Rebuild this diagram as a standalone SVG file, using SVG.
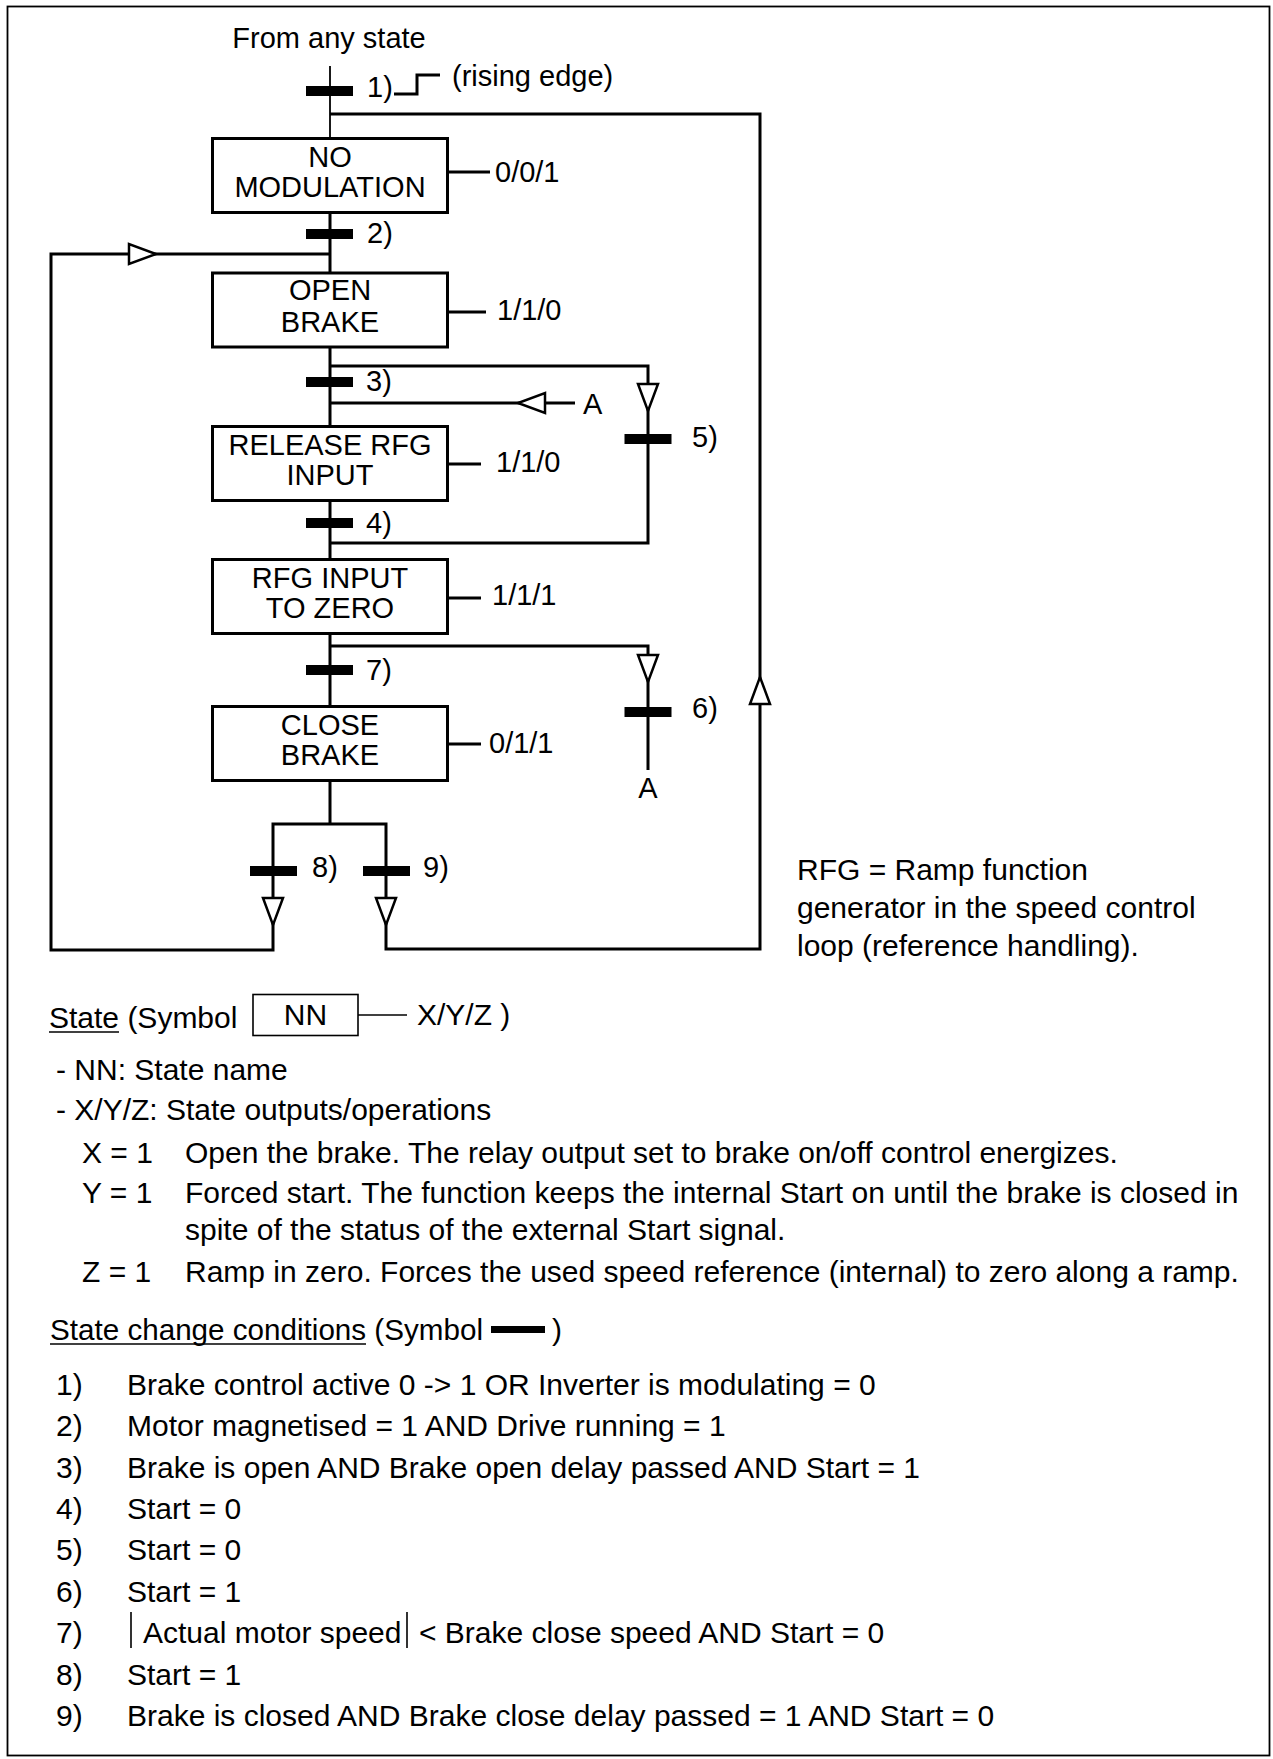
<svg xmlns="http://www.w3.org/2000/svg" width="1273" height="1759" viewBox="0 0 1273 1759">
<defs>
<style>
.t{font-family:"Liberation Sans",Arial,Helvetica,sans-serif;font-size:29px;fill:#000}
.l{font-size:30px}
.c{text-anchor:middle}
.ln{fill:none;stroke:#000;stroke-width:3}
.thin{stroke-width:1.8}
.box{fill:#fff;stroke:#000;stroke-width:3}
.bar{fill:#000;stroke:none}
.hair{fill:none;stroke:#000;stroke-width:1.6}
</style>
<path id="arrow" d="M-10,0 L10,0 L0,27 Z" fill="#fff" stroke="#000" stroke-width="2.5"/>
</defs>
<rect x="0" y="0" width="1273" height="1759" fill="#fff"/>
<rect id="frame" x="7.5" y="6.5" width="1262" height="1749" fill="none" stroke="#000" stroke-width="1.8"/>

<text class="t c" x="329" y="48">From any state</text>

<g id="connectors">
  <path class="ln thin" d="M330,66 V138"/>
  <path class="ln" d="M330,114 H760 V949 H386 V824 H273 V950 H51 V254 H330"/>
  <path class="ln" d="M330,212 V273 M330,347 V426 M330,500 V559 M330,633 V706 M330,780 V824"/>
  <path class="ln" d="M330,366 H648 V543 H330"/>
  <path class="ln" d="M575,403 H330"/>
  <path class="ln" d="M330,646 H648 V770"/>
  <use href="#arrow" transform="translate(648,384)"/>
  <use href="#arrow" transform="translate(648,655)"/>
  <use href="#arrow" transform="translate(273,898)"/>
  <use href="#arrow" transform="translate(386,898)"/>
  <use href="#arrow" transform="translate(760,704) rotate(180)"/>
  <use href="#arrow" transform="translate(129,254) rotate(-90)"/>
  <use href="#arrow" transform="translate(545,403) rotate(90)"/>
  <text class="t" x="583" y="414">A</text>
  <text class="t c" x="648" y="798">A</text>
</g>

<g id="s-no-modulation">
  <rect class="box" x="212.5" y="138.5" width="235" height="74"/>
  <text class="t c" x="330" y="167">NO</text>
  <text class="t c" x="330" y="197">MODULATION</text>
  <path class="ln" d="M447.5,172 H490"/>
  <text class="t" x="495" y="182">0/0/1</text>
</g>
<g id="s-open-brake">
  <rect class="box" x="212.5" y="273" width="235" height="74"/>
  <text class="t c" x="330" y="300">OPEN</text>
  <text class="t c" x="330" y="331.5">BRAKE</text>
  <path class="ln" d="M447.5,312 H486"/>
  <text class="t" x="497" y="320">1/1/0</text>
</g>
<g id="s-release-rfg">
  <rect class="box" x="212.5" y="426.5" width="235" height="74"/>
  <text class="t c" x="330" y="455">RELEASE RFG</text>
  <text class="t c" x="330" y="485">INPUT</text>
  <path class="ln" d="M447.5,464 H481"/>
  <text class="t" x="496" y="472">1/1/0</text>
</g>
<g id="s-rfg-zero">
  <rect class="box" x="212.5" y="559.5" width="235" height="74"/>
  <text class="t c" x="330" y="588">RFG INPUT</text>
  <text class="t c" x="330" y="618">TO ZERO</text>
  <path class="ln" d="M447.5,598 H481"/>
  <text class="t" x="492" y="605">1/1/1</text>
</g>
<g id="s-close-brake">
  <rect class="box" x="212.5" y="706.5" width="235" height="74"/>
  <text class="t c" x="330" y="735">CLOSE</text>
  <text class="t c" x="330" y="765">BRAKE</text>
  <path class="ln" d="M447.5,744 H481"/>
  <text class="t" x="489" y="753">0/1/1</text>
</g>

<g id="c1">
  <rect class="bar" x="306" y="86" width="47" height="10"/>
  <text class="t" x="367" y="97">1)</text>
  <path class="ln" d="M394,94 H417 V75 H440"/>
  <text class="t" x="452" y="86">(rising edge)</text>
</g>
<g id="c2"><rect class="bar" x="306" y="229" width="47" height="10"/><text class="t" x="367" y="243">2)</text></g>
<g id="c3"><rect class="bar" x="306" y="377" width="47" height="10"/><text class="t" x="366" y="391">3)</text></g>
<g id="c4"><rect class="bar" x="306" y="518" width="47" height="10"/><text class="t" x="366" y="533">4)</text></g>
<g id="c5"><rect class="bar" x="624.5" y="434" width="47" height="10"/><text class="t" x="692" y="447">5)</text></g>
<g id="c6"><rect class="bar" x="624.5" y="707" width="47" height="10"/><text class="t" x="692" y="718">6)</text></g>
<g id="c7"><rect class="bar" x="306" y="665" width="47" height="10"/><text class="t" x="366" y="680">7)</text></g>
<g id="c8"><rect class="bar" x="250" y="866" width="47" height="10"/><text class="t" x="312" y="877">8)</text></g>
<g id="c9"><rect class="bar" x="363" y="866" width="47" height="10"/><text class="t" x="423" y="877">9)</text></g>

<g id="note">
  <text class="t l" x="797" y="880">RFG = Ramp function</text>
  <text class="t l" x="797" y="918">generator in the speed control</text>
  <text class="t l" x="797" y="956">loop (reference handling).</text>
</g>

<g id="legend-state">
  <text class="t l" x="49" y="1028">State (Symbol</text>
  <path class="hair" d="M49,1032 H119" stroke-width="2"/>
  <rect x="253" y="994.5" width="105" height="41" fill="none" stroke="#000" stroke-width="1.6"/>
  <text class="t l c" x="305.5" y="1025">NN</text>
  <path class="hair" d="M358,1015 H407"/>
  <text class="t l" x="417" y="1025">X/Y/Z )</text>
  <text class="t l" x="56" y="1080">- NN: State name</text>
  <text class="t l" x="56" y="1120">- X/Y/Z: State outputs/operations</text>
  <text class="t l" x="82" y="1163">X = 1</text>
  <text class="t l" x="185" y="1163">Open the brake. The relay output set to brake on/off control energizes.</text>
  <text class="t l" x="82" y="1203">Y = 1</text>
  <text class="t l" x="185" y="1203">Forced start. The function keeps the internal Start on until the brake is closed in</text>
  <text class="t l" x="185" y="1240">spite of the status of the external Start signal.</text>
  <text class="t l" x="82" y="1282">Z = 1</text>
  <text class="t l" x="185" y="1282">Ramp in zero. Forces the used speed reference (internal) to zero along a ramp.</text>
</g>

<g id="legend-conditions">
  <text class="t l" x="50" y="1340" textLength="433" lengthAdjust="spacingAndGlyphs">State change conditions (Symbol</text>
  <path class="hair" d="M50,1344 H366" stroke-width="2"/>
  <rect class="bar" x="491" y="1326" width="54" height="7"/>
  <text class="t l" x="552" y="1340">)</text>
  <text class="t l" x="56" y="1395">1)</text><text class="t l" x="127" y="1395">Brake control active 0 -&gt; 1 OR Inverter is modulating = 0</text>
  <text class="t l" x="56" y="1436">2)</text><text class="t l" x="127" y="1436">Motor magnetised = 1 AND Drive running = 1</text>
  <text class="t l" x="56" y="1477.5">3)</text><text class="t l" x="127" y="1477.5">Brake is open AND Brake open delay passed AND Start = 1</text>
  <text class="t l" x="56" y="1518.5">4)</text><text class="t l" x="127" y="1518.5">Start = 0</text>
  <text class="t l" x="56" y="1560">5)</text><text class="t l" x="127" y="1560">Start = 0</text>
  <text class="t l" x="56" y="1601.5">6)</text><text class="t l" x="127" y="1601.5">Start = 1</text>
  <text class="t l" x="56" y="1643">7)</text>
  <path class="hair" d="M131,1612 V1648 M407,1612 V1648"/>
  <text class="t l" x="143" y="1643">Actual motor speed</text>
  <text class="t l" x="419" y="1643">&lt; Brake close speed AND Start = 0</text>
  <text class="t l" x="56" y="1685">8)</text><text class="t l" x="127" y="1685">Start = 1</text>
  <text class="t l" x="56" y="1726">9)</text><text class="t l" x="127" y="1726">Brake is closed AND Brake close delay passed = 1 AND Start = 0</text>
</g>
</svg>
